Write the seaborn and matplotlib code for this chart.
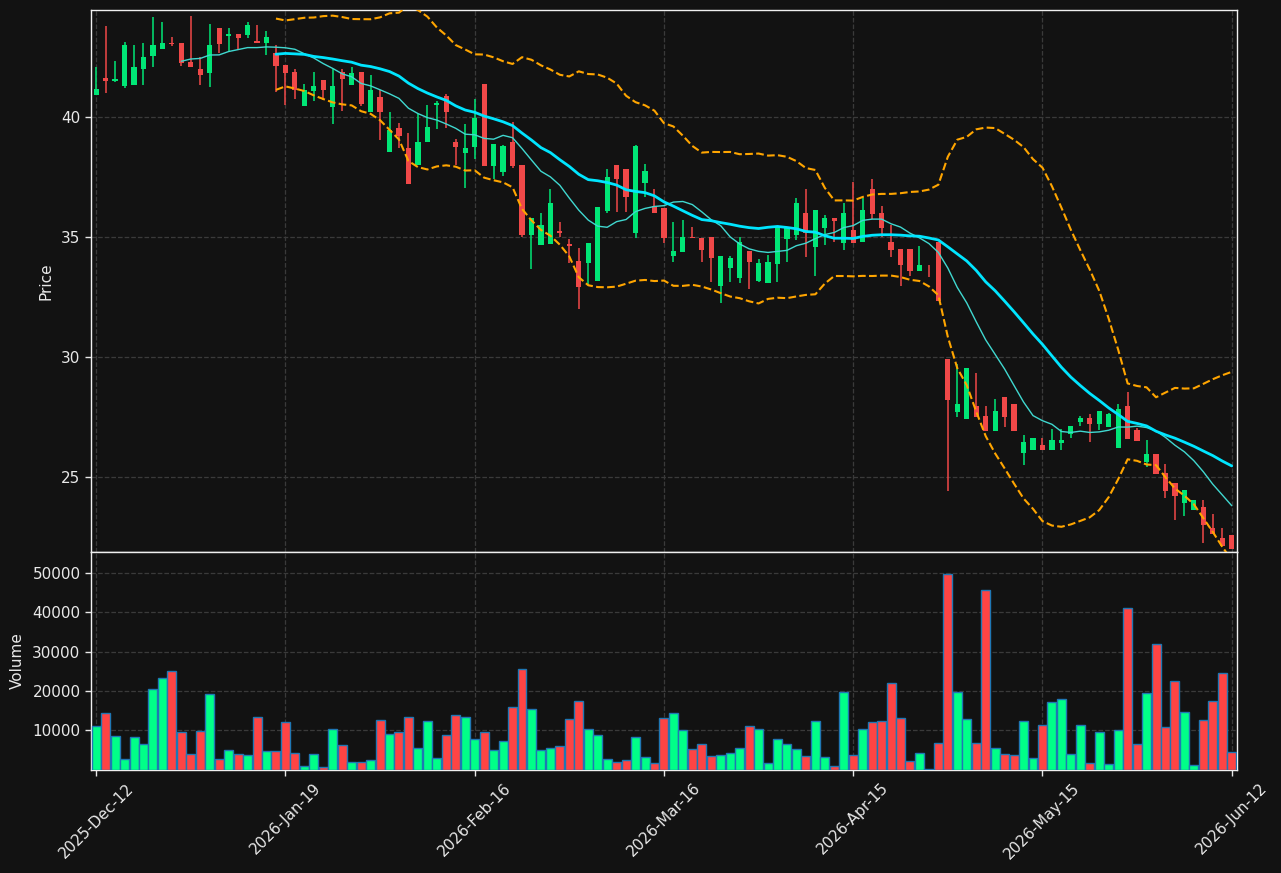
import numpy as np
import pandas as pd
import matplotlib
matplotlib.use("Agg")
import matplotlib.pyplot as plt
import seaborn as sns

# ---------------- data ----------------
opens = [40.93, 41.63, 41.50, 41.29, 41.33, 42.00, 42.54, 42.83, 43.08, 43.08,
         42.29, 42.00, 41.85, 43.71, 43.38, 43.46, 43.43, 43.17, 43.10, 42.67,
         42.17, 41.88, 40.47, 41.10, 41.54, 40.43, 41.86, 41.35, 41.88, 40.22,
         40.83, 38.56, 39.54, 38.69, 37.99, 38.97, 40.51, 40.88, 38.94, 38.51,
         38.76, 41.38, 37.97, 37.72, 38.96, 37.99, 35.08, 34.68, 34.71, 35.25,
         34.71, 34.00, 33.93, 33.18, 36.10, 38.00, 37.83, 35.18, 37.26, 36.31,
         36.21, 34.22, 34.39, 35.00, 34.96, 35.00, 32.96, 33.72, 33.29, 34.42,
         33.17, 33.08, 33.88, 34.92, 35.08, 36.00, 34.58, 35.38, 35.79, 34.75,
         35.29, 34.78, 37.00, 36.00, 34.79, 34.50, 34.50, 33.60, 33.33, 34.79,
         29.92, 27.71, 27.43, 27.96, 27.54, 26.93, 28.33, 28.04, 26.01, 26.10,
         26.35, 26.10, 26.43, 26.79, 27.29, 27.46, 27.21, 27.08, 26.22, 27.96,
         26.96, 25.62, 25.96, 25.17, 24.75, 23.93, 23.64, 23.75, 22.88, 22.47,
         22.56]
highs = [42.10, 43.79, 42.33, 43.11, 42.99, 43.08, 44.15, 43.94, 43.35, 43.08,
         44.19, 42.51, 43.88, 43.71, 43.69, 43.46, 43.94, 43.82, 43.58, 43.00,
         42.17, 41.99, 41.36, 41.86, 41.54, 41.99, 41.99, 42.07, 41.88, 41.74,
         41.13, 40.19, 39.75, 39.32, 40.11, 40.50, 40.67, 40.96, 39.07, 39.69,
         40.74, 41.38, 38.88, 38.83, 39.78, 37.99, 35.79, 35.99, 36.99, 35.61,
         34.90, 34.53, 34.75, 36.25, 37.85, 38.00, 37.83, 38.83, 38.04, 37.00,
         36.21, 35.63, 35.69, 35.40, 34.96, 35.00, 34.21, 34.21, 35.00, 34.42,
         34.08, 34.25, 35.44, 35.38, 36.62, 37.00, 36.13, 35.92, 35.79, 36.42,
         37.29, 36.63, 37.42, 36.29, 35.50, 34.50, 34.50, 34.62, 33.83, 34.79,
         29.92, 29.72, 29.54, 29.33, 27.96, 28.25, 28.33, 28.04, 26.75, 26.64,
         26.64, 27.01, 27.01, 27.12, 27.54, 27.62, 27.75, 27.67, 28.04, 28.53,
         27.04, 26.54, 25.96, 25.54, 24.75, 24.46, 24.04, 24.04, 23.44, 22.88,
         22.56]
lows = [40.93, 40.99, 41.47, 41.22, 41.33, 41.35, 42.10, 42.83, 42.97, 42.14,
        42.10, 41.35, 41.24, 42.65, 42.72, 42.81, 43.28, 43.08, 42.58, 41.03,
        40.51, 40.74, 40.47, 40.68, 40.69, 39.69, 40.26, 41.35, 40.47, 40.22,
        39.03, 38.56, 38.69, 37.19, 37.99, 38.97, 39.50, 39.53, 38.00, 37.03,
        38.24, 37.97, 37.43, 37.55, 37.89, 34.99, 33.65, 34.68, 34.71, 34.99,
        33.93, 32.01, 32.99, 33.18, 35.99, 36.03, 36.03, 34.94, 36.68, 35.99,
        34.74, 33.97, 34.39, 34.96, 33.97, 33.14, 32.26, 33.14, 33.10, 32.82,
        33.14, 33.08, 33.14, 33.97, 34.88, 34.18, 33.39, 34.67, 34.79, 34.47,
        34.75, 34.78, 35.76, 34.99, 34.18, 32.97, 33.39, 33.60, 33.31, 32.31,
        24.43, 27.51, 27.43, 27.51, 26.93, 26.93, 27.10, 26.93, 25.51, 26.10,
        26.10, 26.10, 26.10, 26.61, 27.12, 26.46, 26.96, 27.08, 26.22, 26.58,
        26.50, 25.42, 25.12, 24.14, 23.21, 23.35, 23.64, 22.24, 22.64, 22.13,
        22.01]
closes = [41.17, 41.51, 41.58, 43.00, 42.08, 42.50, 43.00, 43.08, 43.04, 42.26,
          42.10, 41.76, 43.00, 43.06, 43.47, 43.31, 43.83, 43.08, 43.33, 42.14,
          41.85, 41.14, 41.13, 41.29, 41.14, 41.29, 41.60, 41.83, 40.56, 41.13,
          40.22, 39.46, 39.22, 37.19, 38.94, 39.58, 40.58, 40.19, 38.76, 38.69,
          39.96, 37.97, 38.88, 38.79, 37.96, 35.08, 35.79, 35.50, 36.42, 35.17,
          34.64, 32.93, 34.75, 36.25, 37.50, 37.43, 36.68, 38.79, 37.75, 35.99,
          34.97, 34.42, 35.00, 34.96, 34.46, 34.14, 34.21, 34.13, 34.79, 33.97,
          33.92, 33.96, 35.44, 35.38, 36.42, 35.18, 36.13, 35.79, 35.68, 36.00,
          34.75, 36.13, 35.97, 35.38, 34.47, 33.81, 33.60, 33.83, 33.31, 32.31,
          28.22, 28.04, 29.54, 27.51, 26.93, 27.75, 27.51, 26.93, 26.47, 26.64,
          26.10, 26.54, 26.54, 27.12, 27.46, 27.21, 27.75, 27.62, 27.83, 26.58,
          26.50, 25.96, 25.12, 24.42, 24.21, 24.46, 24.04, 23.01, 22.64, 22.13,
          22.01]
volumes = [11030, 14310, 8500, 2690, 8250, 6480, 20620, 23400, 25170, 9510,
           3960, 9760, 19360, 2690, 4970, 3960, 3700, 13300, 4710, 4710,
           12040, 4210, 930, 3960, 670, 10270, 6230, 1940, 1940, 2440,
           12540, 9010, 9510, 13300, 5470, 12290, 2950, 8750, 13800, 13300,
           7740, 9510, 4970, 7240, 15830, 25670, 15320, 4970, 5470, 5980,
           12790, 17590, 10270, 8750, 2690, 1940, 2440, 8250, 3200, 1680,
           13050, 14310, 10020, 5220, 6480, 3450, 3700, 4210, 5470, 11030,
           10270, 1680, 7740, 6480, 5220, 3450, 12290, 3200, 930, 19870,
           3700, 10270, 12040, 12290, 22140, 13050, 2190, 4210, 200, 6730,
           49660, 19870, 12790, 6730, 45620, 5470, 3960, 3700, 12290, 2950,
           11280, 17090, 17850, 3960, 11280, 1680, 9510, 1430, 10020, 41080,
           6480, 19610, 31990, 10770, 22640, 14560, 1180, 12540, 17590, 24660,
           4460]
tick_labels = ["2025-Dec-12", "2026-Jan-19", "2026-Feb-16", "2026-Mar-16",
               "2026-Apr-15", "2026-May-15", "2026-Jun-12"]

# ---------------- derived ----------------
df = pd.DataFrame({"Open": opens, "High": highs, "Low": lows,
                   "Close": closes, "Volume": volumes})
df["idx"] = np.arange(len(df))
df["up"] = df["Close"] >= df["Open"]
df["ma10"] = df["Close"].rolling(10).mean()
df["ma20"] = df["Close"].rolling(20).mean()
std20 = df["Close"].rolling(20).std()
df["bb_up"] = df["ma20"] + 2 * std20
df["bb_lo"] = df["ma20"] - 2 * std20

BG = "#121212"
FG = "#e8e8e8"
sns.set_theme(style="darkgrid", rc={
    "figure.facecolor": BG, "axes.facecolor": BG, "axes.edgecolor": "#f0f0f0",
    "grid.color": "#3a3a3a", "grid.linestyle": "--", "grid.linewidth": 0.9,
    "text.color": FG, "axes.labelcolor": FG, "xtick.color": FG, "ytick.color": FG,
    "xtick.bottom": True, "ytick.left": True,
})
plt.rcParams["font.family"] = ["DejaVu Sans"]
plt.rcParams["font.size"] = 11

fig = plt.figure(figsize=(12.81, 8.73), dpi=100)
ax = fig.add_axes([0.0710, 0.3677, 0.8946, 0.6209])
axv = fig.add_axes([0.0710, 0.1180, 0.8946, 0.2497], sharex=ax)

up_c, dn_c = "#00e676", "#f04848"
vup_c, vdn_c = "#00ff88", "#ff4444"

# candles
colors = np.where(df["up"], up_c, dn_c)
ax.vlines(df["idx"], df["Low"], df["High"], colors=colors, linewidth=1.1, zorder=2)
body_bottom = np.minimum(df["Open"], df["Close"])
body_h = np.maximum(np.abs(df["Close"] - df["Open"]), 0.04)
ax.bar(df["idx"], body_h, bottom=body_bottom, width=0.55, color=colors,
       linewidth=0, zorder=3)

# indicators
sns.lineplot(x=df["idx"], y=df["bb_up"], ax=ax, color="#ffa500", linewidth=1.5,
             linestyle="--", zorder=4)
sns.lineplot(x=df["idx"], y=df["bb_lo"], ax=ax, color="#ffa500", linewidth=1.5,
             linestyle="--", zorder=4)
sns.lineplot(x=df["idx"], y=df["ma10"], ax=ax, color="#40d8d0", linewidth=1.0, zorder=4)
sns.lineplot(x=df["idx"], y=df["ma20"], ax=ax, color="#00e5ff", linewidth=2.0, zorder=5)

# volume
vcolors = np.where(df["up"], vup_c, vdn_c)
axv.bar(df["idx"], df["Volume"], width=0.95, color=vcolors, edgecolor="#1f77b4",
        linewidth=1.0, zorder=3)

tick_pos = list(range(0, len(df), 20))
for a in (ax, axv):
    a.set_xlim(-0.55, len(df) - 0.45)
    a.set_xticks(tick_pos)
    a.grid(True, which="major", axis="both", zorder=0)
    a.set_axisbelow(True)
    for s in a.spines.values():
        s.set_color("#f0f0f0")
        s.set_linewidth(1.0)
    a.tick_params(length=4, width=1, colors=FG, labelsize=11)

ax.set_ylim(21.87, 44.46)
ax.set_yticks([25, 30, 35, 40])
ax.set_ylabel("Price", fontsize=11)
ax.set_xlabel("")
ax.tick_params(axis="x", labelbottom=False, bottom=False)

axv.set_ylim(0, 55200)
axv.set_yticks([10000, 20000, 30000, 40000, 50000])
axv.set_yticklabels([str(v) for v in [10000, 20000, 30000, 40000, 50000]])
axv.set_ylabel("Volume", fontsize=11)
axv.set_xlabel("")
axv.set_xticklabels(tick_labels, rotation=45, ha="center")

ax.yaxis.set_label_coords(-0.033, 0.5)
axv.yaxis.set_label_coords(-0.058, 0.5)

fig.savefig("out.png", dpi=100, facecolor=BG)
